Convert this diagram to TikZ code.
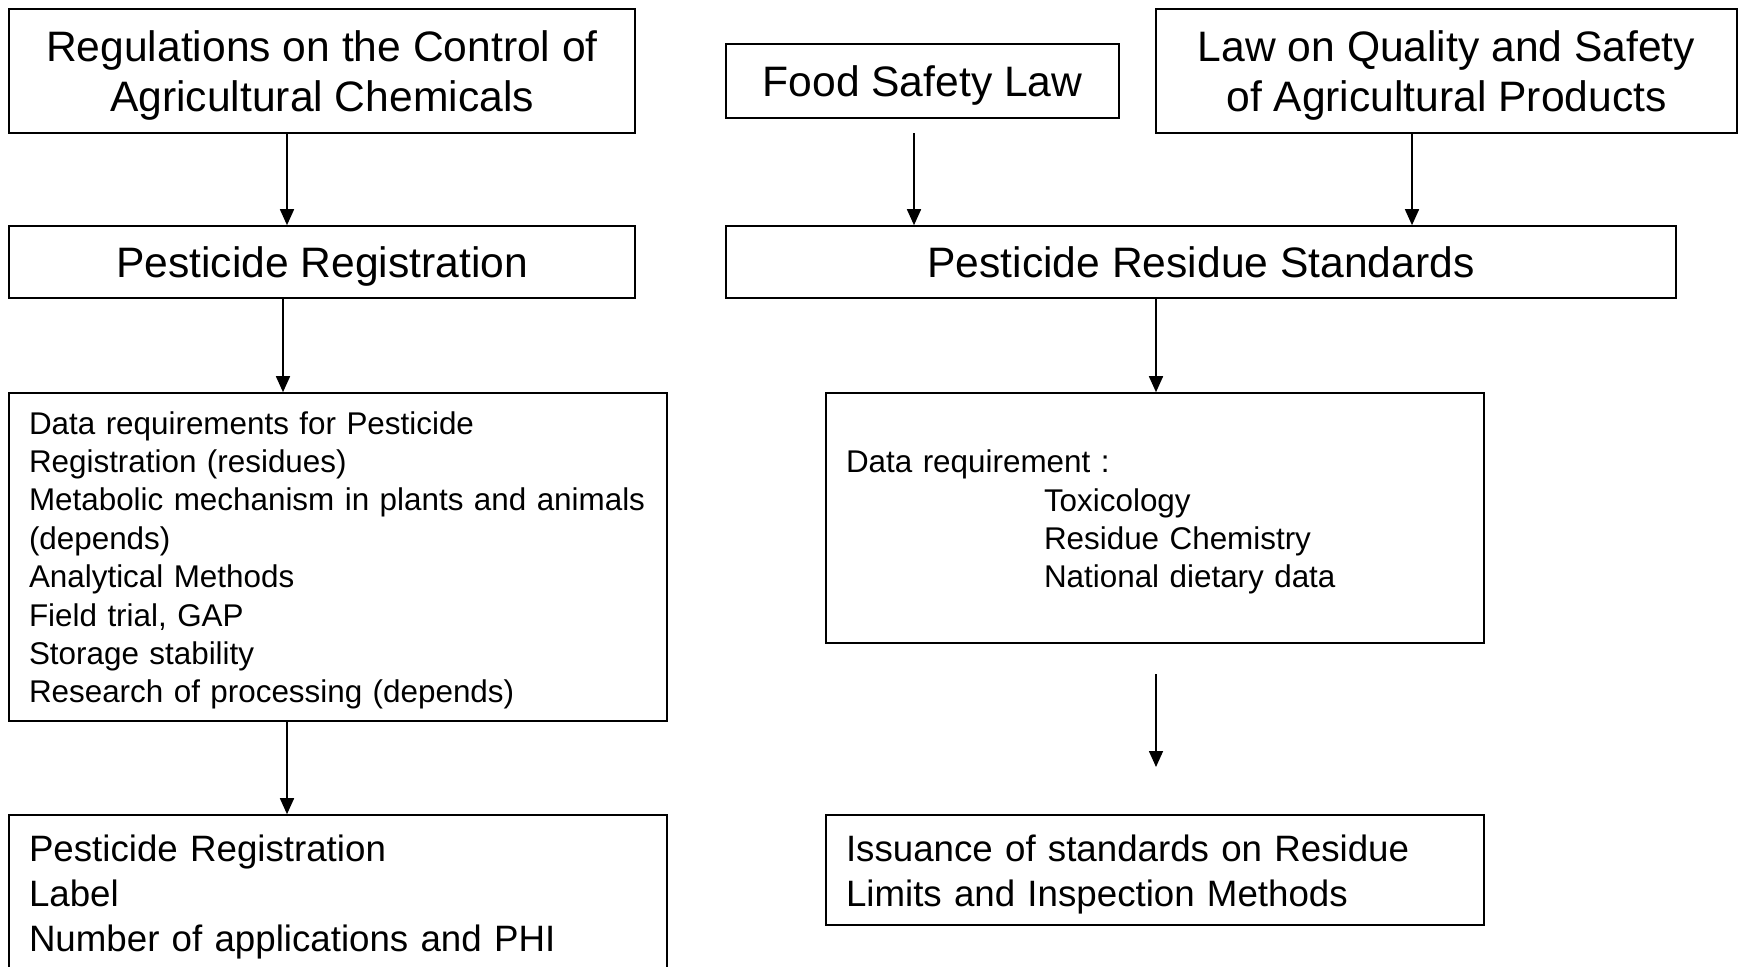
\documentclass[tikz,border=0pt]{standalone}
\usepackage{fontspec}
\setmainfont{Liberation Sans}
\usetikzlibrary{arrows.meta}
\begin{document}
\begin{tikzpicture}[x=1pt,y=-1pt,
  box/.style={draw=black, line width=1.6pt, inner sep=0pt},
  bigtxt/.style={font=\fontsize{42.6}{50}\selectfont, align=center},
  listA/.style={font=\fontsize{31.4}{38.4}\selectfont, align=left, text width=618pt, inner sep=0pt},
  listB/.style={font=\fontsize{36.7}{45}\selectfont, align=left, text width=618pt, inner sep=0pt},
  arr/.style={-{Triangle[length=16pt,width=14pt]}, line width=1.6pt}]
\clip (0,0) rectangle (1739,966);
% left column
\node[box,minimum width=626pt,minimum height=124pt] (reg) at (322,71) {};
\node[bigtxt] (reg-t) at ([yshift=-4.4pt]reg.center)
  {Regulations on the Control of\\Agricultural Chemicals};
\node[box,bigtxt,text depth=0pt,minimum width=626pt,minimum height=72pt] (preg) at (322,262)
  {Pesticide Registration};
\node[box,minimum width=658pt,minimum height=328pt] (data) at (338,557) {};
\node[listA] (data-t) at ([yshift=-3.3pt]data.center)
  {Data requirements for Pesticide\\
   Registration (residues)\\
   \mbox{Metabolic mechanism in plants and animals}\\
   (depends)\\
   Analytical Methods\\
   Field trial, GAP\\
   Storage stability\\
   Research of processing (depends)};
\node[box,minimum width=658pt,minimum height=156pt] (lab) at (338,893) {};
\node[listB] (lab-t) at ([yshift=-4.2pt]lab.center)
  {Pesticide Registration\\
   Label\\
   Number of applications and PHI};
% right column
\node[box,bigtxt,text depth=0pt,minimum width=393pt,minimum height=74pt] (fsl) at (922.5,81)
  {Food Safety Law};
\node[box,minimum width=581pt,minimum height=124pt] (law) at (1446.5,71) {};
\node[bigtxt] (law-t) at ([yshift=-4.4pt]law.center)
  {Law on Quality and Safety\\of Agricultural Products};
\node[box,bigtxt,text depth=0pt,minimum width=950pt,minimum height=72pt] (prs) at (1201,262)
  {Pesticide Residue Standards};
\node[box,minimum width=658pt,minimum height=250pt] (dr) at (1155,518) {};
\node[listA] (dr-t) at ([yshift=-4.2pt]dr.center)
  {Data requirement :\\
   \hspace*{198pt}Toxicology\\
   \hspace*{198pt}Residue Chemistry\\
   \hspace*{198pt}National dietary data};
\node[box,minimum width=658pt,minimum height=110pt] (iss) at (1155,870) {};
\node[listB] (iss-t) at ([yshift=-4.2pt]iss.center)
  {Issuance of standards on Residue\\
   Limits and Inspection Methods};
% arrow x positions
\coordinate (xa) at (287,0);
\coordinate (xb) at (283,0);
\coordinate (xc) at (914,133);
\coordinate (xd) at (1412,0);
\coordinate (xe) at (1156,0);
\coordinate (fa) at (1156,674);
\coordinate (fb) at (1156,767);
% connectors
\draw[arr] (reg.south -| xa) -- (preg.north -| xa);
\draw[arr] (preg.south -| xb) -- (data.north -| xb);
\draw[arr] (data.south -| xa) -- (lab.north -| xa);
\draw[arr] (xc) -- (prs.north -| xc);
\draw[arr] (law.south -| xd) -- (prs.north -| xd);
\draw[arr] (prs.south -| xe) -- (dr.north -| xe);
\draw[arr] (fa) -- (fb);
\end{tikzpicture}
\end{document}
